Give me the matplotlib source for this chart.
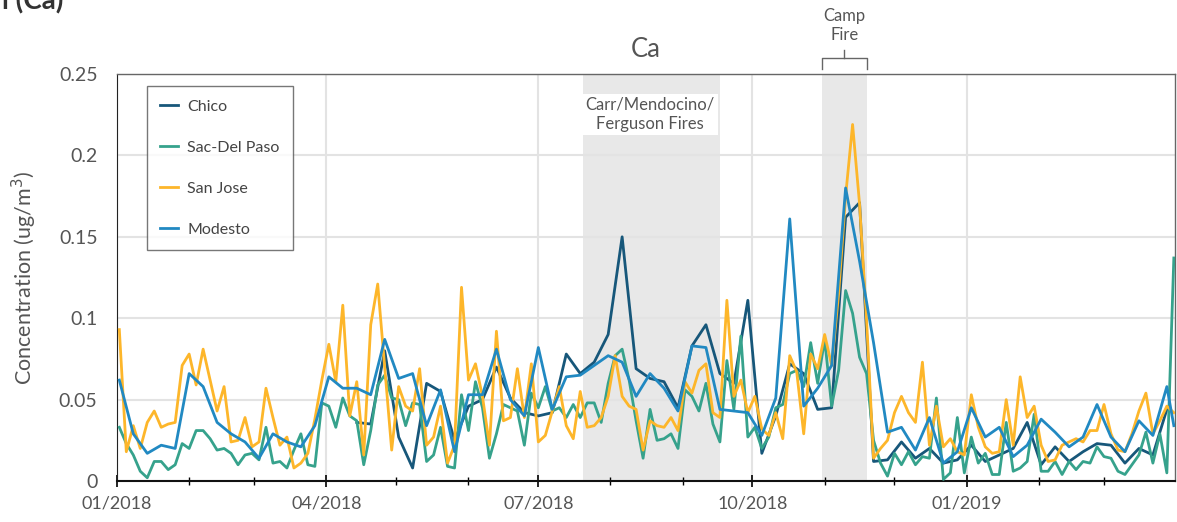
import numpy as np
import pandas as pd
import matplotlib
matplotlib.use('Agg')
import matplotlib.pyplot as plt
import matplotlib.dates as mdates
import matplotlib.transforms as mtransforms

plt.rcParams['font.family'] = ['Lato', 'DejaVu Sans']

# 1-in-3 day sampling schedule
dates = pd.date_range('2018-01-02', periods=152, freq='3D')
nan = np.nan

san_jose = [
    0.093, 0.018, 0.034, 0.020, 0.036, 0.043, 0.033, 0.035, 0.036, 0.071,
    0.078, 0.059, 0.081, 0.062, 0.043, 0.058, 0.024, 0.025, 0.039, 0.021,
    0.024, 0.057, 0.039, 0.022, 0.027, 0.008, 0.011, 0.017, 0.038, 0.062,
    0.084, 0.061, 0.108, 0.040, 0.061, 0.016, 0.096, 0.121, 0.070, 0.019,
    0.058, 0.046, 0.043, 0.069, 0.022, 0.027, 0.046, 0.011, 0.022, 0.119,
    0.062, 0.072, 0.052, 0.022, 0.092, 0.037, 0.039, 0.069, 0.039, 0.072,
    0.024, 0.028, 0.043, 0.058, 0.034, 0.026, 0.055, 0.033, 0.034, 0.039,
    0.052, 0.077, 0.052, 0.046, 0.044, 0.019, 0.037, 0.034, 0.033, 0.039,
    0.031, 0.061, 0.054, 0.068, 0.072, 0.042, 0.039, 0.111, 0.052, 0.062,
    0.042, 0.052, 0.032, 0.028, 0.042, 0.026, 0.077, 0.067, 0.029, 0.078,
    0.069, 0.090, 0.071, 0.115, 0.175, 0.219, 0.170, 0.099, 0.014, 0.020,
    0.025, 0.042, 0.052, 0.042, 0.036, 0.073, 0.022, 0.046, 0.021, 0.026,
    0.018, 0.016, 0.053, 0.033, 0.021, 0.017, 0.018, 0.050, 0.022, 0.064,
    0.039, 0.046, 0.022, 0.012, 0.013, 0.022, 0.024, 0.026, 0.024, 0.031,
    0.031, 0.047, 0.029, 0.019, 0.018, 0.029, 0.043, 0.054, 0.029, 0.037,
    0.046, 0.042,
]

sac_del_paso = [
    0.033, 0.023, 0.016, 0.006, 0.002, 0.012, 0.012, 0.007, 0.010, 0.023,
    0.020, 0.031, 0.031, 0.026, 0.019, 0.020, 0.017, 0.010, 0.016, 0.017,
    0.013, 0.033, 0.011, 0.012, 0.008, 0.019, 0.029, 0.010, 0.009, 0.048,
    0.046, 0.033, 0.051, 0.040, 0.037, 0.010, 0.031, 0.059, 0.065, 0.051,
    0.050, 0.034, 0.048, 0.047, 0.012, 0.016, 0.033, 0.009, 0.008, 0.053,
    0.031, 0.061, 0.045, 0.014, 0.029, 0.047, 0.045, 0.043, 0.022, 0.054,
    0.045, 0.058, 0.043, 0.045, 0.039, 0.047, 0.039, 0.048, 0.048, 0.036,
    0.060, 0.077, 0.081, 0.062, 0.037, 0.014, 0.044, 0.025, 0.026, 0.029,
    0.020, 0.056, 0.052, 0.043, 0.060, 0.035, 0.024, 0.074, 0.044, 0.089,
    0.027, 0.033, 0.020, 0.027, 0.045, 0.047, 0.066, 0.068, 0.058, 0.085,
    0.060, 0.087, 0.046, 0.068, 0.117, 0.103, 0.076, 0.066, 0.025, 0.011,
    0.003, 0.017, 0.010, 0.018, 0.010, 0.015, 0.014, 0.051, 0.001, 0.005,
    0.039, 0.005, 0.027, 0.011, 0.017, 0.004, 0.004, 0.036, 0.006, 0.008,
    0.012, 0.041, 0.006, 0.006, 0.012, 0.004, 0.012, 0.007, 0.012, 0.011,
    0.021, 0.015, 0.014, 0.006, 0.004, 0.010, 0.016, 0.030, 0.011, 0.029,
    0.005, 0.137,
]

# Modesto and Chico: 1-in-6 day sampling (every other slot)
modesto = [
    0.062, nan, 0.029, nan, 0.017, nan, 0.022, nan, 0.020, nan,
    0.066, nan, 0.058, nan, 0.036, nan, 0.029, nan, 0.024, nan,
    0.014, nan, 0.029, nan, 0.024, nan, 0.021, nan, 0.034, nan,
    0.064, nan, 0.057, nan, 0.057, nan, 0.053, nan, 0.087, nan,
    0.063, nan, 0.066, nan, 0.034, nan, 0.056, nan, 0.018, nan,
    0.053, nan, 0.053, nan, 0.081, nan, 0.050, nan, 0.040, nan,
    0.082, nan, 0.044, nan, 0.064, nan, 0.065, nan, nan, nan,
    0.077, nan, 0.073, nan, 0.052, nan, 0.066, nan, 0.057, nan,
    0.043, nan, 0.083, nan, 0.082, nan, 0.044, nan, 0.043, nan,
    0.042, nan, 0.028, nan, 0.051, nan, 0.161, nan, 0.046, nan,
    0.057, nan, 0.071, nan, 0.180, nan, 0.135, nan, 0.085, nan,
    0.030, nan, 0.033, nan, 0.019, nan, 0.039, nan, 0.011, nan,
    0.018, nan, 0.045, nan, 0.027, nan, 0.033, nan, 0.015, nan,
    0.022, nan, 0.038, nan, 0.030, nan, 0.021, nan, 0.027, nan,
    0.047, nan, 0.027, nan, 0.018, nan, 0.037, nan, 0.028, nan,
    0.058, 0.034,
]

chico = [
    nan, nan, nan, nan, nan, nan, nan, nan, nan, nan,
    nan, nan, nan, nan, nan, nan, nan, nan, nan, nan,
    nan, nan, nan, nan, nan, nan, nan, nan, nan, nan,
    nan, nan, nan, nan, 0.036, nan, 0.035, nan, 0.080, nan,
    0.027, nan, 0.008, nan, 0.060, nan, 0.055, nan, 0.025, nan,
    0.046, nan, 0.050, nan, 0.070, nan, 0.051, nan, 0.042, nan,
    0.040, nan, 0.042, nan, 0.078, nan, 0.066, nan, 0.073, nan,
    0.090, nan, 0.150, nan, 0.069, nan, 0.063, nan, 0.061, nan,
    0.045, nan, 0.083, nan, 0.096, nan, 0.066, nan, 0.060, nan,
    0.111, nan, 0.017, nan, 0.040, nan, 0.072, nan, 0.066, nan,
    0.044, nan, 0.045, nan, 0.162, nan, 0.171, nan, 0.012, nan,
    0.013, nan, 0.024, nan, 0.014, nan, 0.020, nan, 0.011, nan,
    0.013, nan, 0.022, nan, 0.012, nan, 0.016, nan, 0.020, nan,
    0.036, nan, 0.010, nan, 0.021, nan, 0.012, nan, 0.018, nan,
    0.023, nan, 0.022, nan, 0.011, nan, 0.020, nan, 0.016, nan,
    0.044, nan,
]

site_names = ['Chico', 'Sac-Del Paso', 'San Jose', 'Modesto']
site_values = [chico, sac_del_paso, san_jose, modesto]
site_colors = ['#17577a', '#36a28c', '#fdb62a', '#2189c2']

fire_periods = [('2018-07-20', '2018-09-17'), ('2018-10-31', '2018-11-19')]
yticks = [0, 0.05, 0.1, 0.15, 0.2, 0.25]
ytick_labels = ['0', '0.05', '0.1', '0.15', '0.2', '0.25']

fig = plt.figure(figsize=(11.77, 5.22), dpi=100)
ax = fig.add_axes([0.0994, 0.0785, 0.8989, 0.7797])

for start, end in fire_periods:
    ax.axvspan(pd.Timestamp(start), pd.Timestamp(end), color='#e8e8e8', lw=0, zorder=0)

for name, vals, col in zip(site_names, site_values, site_colors):
    s = pd.Series(vals, index=dates).dropna()
    ax.plot(s.index, s.values, color=col, lw=2.0, label=name, zorder=3)

ax.set_xlim(pd.Timestamp('2018-01-01'), pd.Timestamp('2019-03-31 12:00'))
ax.set_ylim(0, 0.25)
ax.set_yticks(yticks)
ax.set_yticklabels(ytick_labels)

ax.xaxis.set_major_locator(mdates.MonthLocator(bymonth=[1, 4, 7, 10]))
ax.xaxis.set_major_formatter(mdates.DateFormatter('%m/%Y'))
ax.xaxis.set_minor_locator(mdates.MonthLocator())
ax.tick_params(axis='x', which='major', direction='inout', length=9, width=1.2,
               labelsize=13, labelcolor='#555555', pad=6)
ax.tick_params(axis='x', which='minor', direction='inout', length=6, width=1)
ax.tick_params(axis='y', length=0, labelsize=14, labelcolor='#555555', pad=14)

ax.grid(True, which='major', color='#e3e3e3', lw=1.5, zorder=1)
ax.set_axisbelow(True)

for side in ['top', 'right']:
    ax.spines[side].set_color('#666666')
    ax.spines[side].set_linewidth(1)
ax.spines['left'].set_color('#222222')
ax.spines['bottom'].set_color('#111111')
ax.spines['bottom'].set_linewidth(1.5)

ax.set_ylabel('Concentration (ug/m$^3$)', fontsize=15.5, color='#555555', labelpad=14)
ax.set_title('Ca', fontsize=18.5, color='#555555', pad=12)

leg = ax.legend(loc='upper left', bbox_to_anchor=(0.028, 0.971), borderaxespad=0,
                frameon=True, fancybox=False, fontsize=11.5, handlelength=1.1,
                handletextpad=0.6, labelspacing=1.68, borderpad=0.85)
leg.get_frame().set_edgecolor('#555555')
leg.get_frame().set_linewidth(1)
for t in leg.get_texts():
    t.set_color('#444444')

trans = mtransforms.blended_transform_factory(ax.transData, ax.transAxes)

# fire labels
ax.text(pd.Timestamp('2018-08-18'), 0.945, 'Carr/Mendocino/\nFerguson Fires', transform=trans,
        ha='center', va='top', fontsize=12, color='#555555', linespacing=1.3,
        bbox=dict(facecolor='white', edgecolor='none', pad=2))

c0, c1 = pd.Timestamp('2018-10-31'), pd.Timestamp('2018-11-19')
cm = c0 + (c1 - c0) / 2
ax.plot([c0, c0, c1, c1], [1.012, 1.039, 1.039, 1.012], color='#666666', lw=1,
        transform=trans, clip_on=False)
ax.plot([cm, cm], [1.039, 1.059], color='#666666', lw=1, transform=trans, clip_on=False)
ax.text(cm, 1.075, 'Camp\nFire', transform=trans, ha='center', va='bottom',
        fontsize=12, color='#555555', linespacing=1.25)

fig.text(0.002, 1 - 9 / 522, 'l (Ca)', fontsize=20, fontweight='bold', color='#333333',
         ha='left', va='baseline')

fig.savefig('out.png', dpi=100)
